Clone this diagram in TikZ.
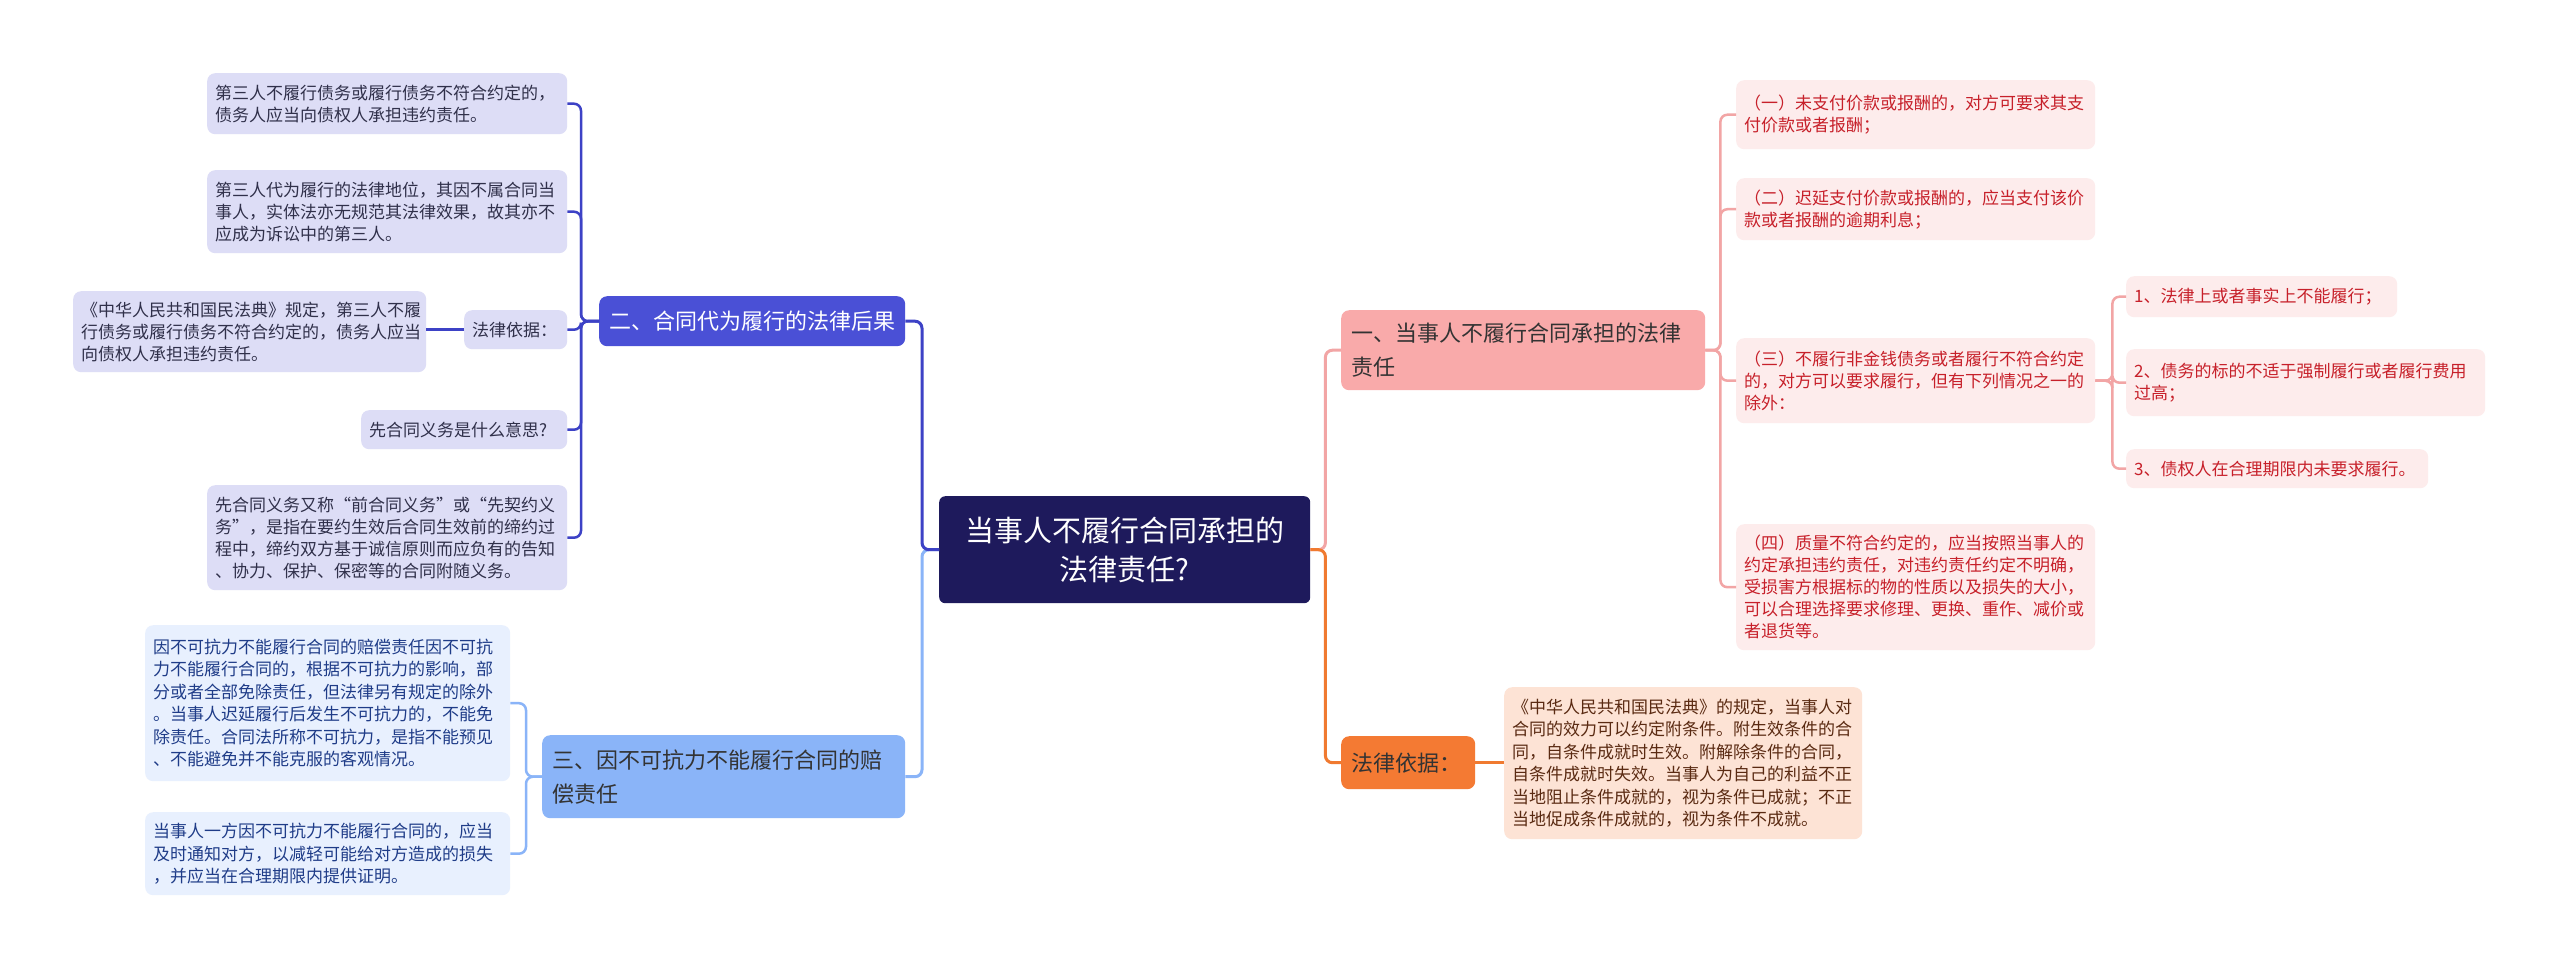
\documentclass[tikz,border=0pt]{standalone}
\usepackage{fontspec}
\setmainfont{Noto Sans CJK SC}
\definecolor{cnavy}{HTML}{1E1A5C}
\definecolor{cviolet}{HTML}{4A50D6}
\definecolor{cvioletline}{HTML}{3D42C6}
\definecolor{clav}{HTML}{DDDDF6}
\definecolor{clavtext}{HTML}{30304A}
\definecolor{cblue}{HTML}{8AB4F8}
\definecolor{cbluelight}{HTML}{E8F0FE}
\definecolor{cbluetext}{HTML}{1F3C88}
\definecolor{cpink}{HTML}{F9AAAA}
\definecolor{cpinkline}{HTML}{F2A5A5}
\definecolor{cpinklight}{HTML}{FDECEC}
\definecolor{credtext}{HTML}{C7202A}
\definecolor{corange}{HTML}{F47A33}
\definecolor{corangeline}{HTML}{F07A30}
\definecolor{cpeach}{HTML}{FDE3D5}
\definecolor{cbrown}{HTML}{5A2A12}
\definecolor{cdark}{HTML}{333333}
\tikzset{
  boxbase/.style={anchor=north west, rounded corners=8pt, inner ysep=0pt, inner xsep=8pt, align=left},
  leafL/.style={boxbase, fill=clav, text=clavtext, font=\fontsize{17}{22}\selectfont},
  leafM/.style={boxbase, fill=cbluelight, text=cbluetext, font=\fontsize{17}{22.5}\selectfont},
  leafR/.style={boxbase, fill=cpinklight, text=credtext, font=\fontsize{17}{22}\selectfont},
  leafO/.style={boxbase, fill=cpeach, text=cbrown, font=\fontsize{17}{22.5}\selectfont},
  mainbox/.style={boxbase, inner xsep=10pt, font=\fontsize{22}{34}\selectfont},
  centerbox/.style={anchor=north west, rounded corners=6pt, inner sep=0pt, inner xsep=10pt, align=center, fill=cnavy, text=white, font=\fontsize{29}{39}\selectfont},
  conn/.style={line width=2.5pt, rounded corners=7pt},
}
\begin{document}
\begin{tikzpicture}[x=1pt,y=-1pt]
\useasboundingbox (0,0) rectangle (2560,970);
\fill[white] (0,0) rectangle (2560,970);

% central
\node[centerbox, text width=351pt, minimum height=107pt] (c) at (939,496) {当事人不履行合同承担的\\法律责任?};

% main branches
\node[mainbox, fill=cpink, text=cdark, text width=344pt, minimum height=80pt] (b1) at (1341,310) {一、当事人不履行合同承担的法律\\责任};
\node[mainbox, fill=corange, text=cdark, text width=114pt, minimum height=53pt] (j1) at (1341,736) {法律依据：};
\node[mainbox, fill=cviolet, text=white, text width=286pt, minimum height=50pt] (b2) at (599,296) {二、合同代为履行的法律后果};
\node[mainbox, fill=cblue, text=cdark, text width=343pt, minimum height=83pt] (b3) at (542,735) {三、因不可抗力不能履行合同的赔\\偿责任};

% left leaves of b2
\node[leafL, text width=344pt, minimum height=61pt] (l1) at (207,73) {第三人不履行债务或履行债务不符合约定的，\\债务人应当向债权人承担违约责任。};
\node[leafL, text width=344pt, minimum height=83pt] (l2) at (207,170) {第三人代为履行的法律地位，其因不属合同当\\事人，实体法亦无规范其法律效果，故其亦不\\应成为诉讼中的第三人。};
\node[leafL, text width=87pt, minimum height=39pt] (jl) at (464,310) {法律依据：};
\node[leafL, text width=337pt, minimum height=81pt] (l3) at (73,291) {《中华人民共和国民法典》规定，第三人不履\\行债务或履行债务不符合约定的，债务人应当\\向债权人承担违约责任。};
\node[leafL, text width=190pt, minimum height=39pt] (l4) at (361,410) {先合同义务是什么意思?};
\node[leafL, text width=344pt, minimum height=105pt] (l5) at (207,485) {先合同义务又称“前合同义务”或“先契约义\\务”，是指在要约生效后合同生效前的缔约过\\程中，缔约双方基于诚信原则而应负有的告知\\、协力、保护、保密等的合同附随义务。};

% left leaves of b3
\node[leafM, text width=349pt, minimum height=156pt] (m1) at (145,625) {因不可抗力不能履行合同的赔偿责任因不可抗\\力不能履行合同的，根据不可抗力的影响，部\\分或者全部免除责任，但法律另有规定的除外\\。当事人迟延履行后发生不可抗力的，不能免\\除责任。合同法所称不可抗力，是指不能预见\\、不能避免并不能克服的客观情况。};
\node[leafM, text width=349pt, minimum height=83pt] (m2) at (145,812) {当事人一方因不可抗力不能履行合同的，应当\\及时通知对方，以减轻可能给对方造成的损失\\，并应当在合理期限内提供证明。};

% right leaves of b1
\node[leafR, text width=343pt, minimum height=69pt] (r1) at (1736,80) {（一）未支付价款或报酬的，对方可要求其支\\付价款或者报酬；};
\node[leafR, text width=343pt, minimum height=62pt] (r2) at (1736,178) {（二）迟延支付价款或报酬的，应当支付该价\\款或者报酬的逾期利息；};
\node[leafR, text width=343pt, minimum height=85pt] (r3) at (1736,338) {（三）不履行非金钱债务或者履行不符合约定\\的，对方可以要求履行，但有下列情况之一的\\除外：};
\node[leafR, text width=343pt, minimum height=126pt] (r4) at (1736,524) {（四）质量不符合约定的，应当按照当事人的\\约定承担违约责任，对违约责任约定不明确，\\受损害方根据标的物的性质以及损失的大小，\\可以合理选择要求修理、更换、重作、减价或\\者退货等。};

% sub leaves of r3
\node[leafR, text width=255pt, minimum height=41pt] (s1) at (2126,276) {1、法律上或者事实上不能履行；};
\node[leafR, text width=343pt, minimum height=67pt] (s2) at (2126,349) {2、债务的标的不适于强制履行或者履行费用\\过高；};
\node[leafR, text width=286pt, minimum height=39pt] (s3) at (2126,449) {3、债权人在合理期限内未要求履行。};

% legal basis leaf
\node[leafO, text width=342pt, minimum height=152pt] (o1) at (1504,687) {《中华人民共和国民法典》的规定，当事人对\\合同的效力可以约定附条件。附生效条件的合\\同，自条件成就时生效。附解除条件的合同，\\自条件成就时失效。当事人为自己的利益不正\\当地阻止条件成就的，视为条件已成就；不正\\当地促成条件成就的，视为条件不成就。};

% connectors: center to main branches
\draw[conn, cpinkline, line width=3pt] (c.east) -- ++(15,0) |- (b1.west);
\draw[conn, corangeline, line width=3pt] (c.east) -- ++(15,0) |- (j1.west);
\draw[conn, cblue, line width=3pt] (c.west) -- ++(-17,0) |- (b3.east);
\draw[conn, cvioletline, line width=3pt] (c.west) -- ++(-17,0) |- (b2.east);

% b2 children
\foreach \t in {l1,l2,jl,l4,l5}
  \draw[conn, cvioletline] (b2.west) -- ++(-18,0) |- (\t.east);
\draw[conn, cvioletline] (jl.west) -- (jl.west -| l3.east);

% b3 children
\foreach \t in {m1,m2}
  \draw[conn, cblue] (b3.west) -- ++(-16,0) |- (\t.east);

% b1 children
\foreach \t in {r1,r2,r3,r4}
  \draw[conn, cpinkline] (b1.east) -- ++(15,0) |- (\t.west);

% r3 children
\foreach \t in {s1,s2,s3}
  \draw[conn, cpinkline] (r3.east) -- ++(17,0) |- (\t.west);

% legal basis
\draw[conn, corangeline] (j1.east) -- (j1.east -| o1.west);
\end{tikzpicture}
\end{document}
